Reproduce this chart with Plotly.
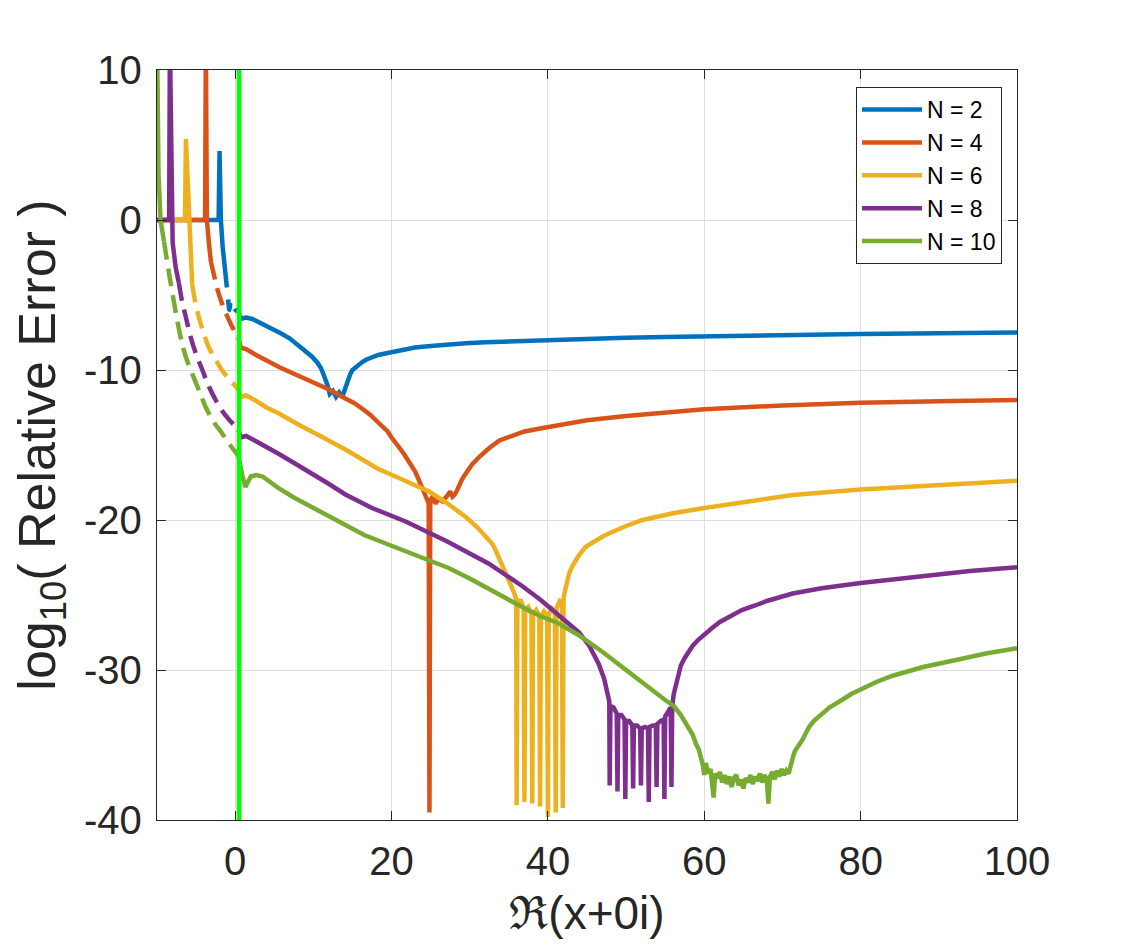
import plotly.graph_objects as go

# ---- data ----
orders = ["N = 2", "N = 4", "N = 6", "N = 8", "N = 10"]
colors = ["#0072BD", "#D95319", "#EDB120", "#7E2F8E", "#77AC30"]

# x < 0 : flat part at 0 and the pole spike (solid)
n2_spike_x = [-10, -2.12, -2.0, -1.83, -1.6, -1.35, -1.06]
n2_spike_y = [0, 0, 4.6, 0, -1.8, -3.2, -4.5]
n4_spike_x = [-10, -3.85, -3.75, -3.62, -3.35, -3.1]
n4_spike_y = [0, 0, 12, 0, -1.6, -2.8]
n6_spike_x = [-10, -6.42, -6.3, -5.92, -5.75, -5.5]
n6_spike_y = [0, 0, 5.4, 0, -2.2, -4.3]
n8_spike_x = [-10, -8.45, -8.35, -8.15, -8.0, -7.6, -7.2]
n8_spike_y = [0, 0, 12, 1, -1.5, -3.2, -4.2]
n10_spike_x = [-10, -9.8, -9.55, -9.1]
n10_spike_y = [12, 3, 0, -1.45]

# x < 0 : descending branch (dashed)
n2_dash_x = [-0.9, -0.75, -0.55, -0.3, -0.1, 0.2]
n2_dash_y = [-5.3, -6.0, -5.5, -5.5, -5.9, -6.1]
n4_dash_x = [-3.1, -2.7, -2.34, -1.8, -1.19, -0.5, 0.3]
n4_dash_y = [-2.8, -3.7, -4.5, -5.4, -6.2, -7.0, -7.8]
n6_dash_x = [-5.5, -5.1, -4.64, -4.0, -3.36, -2.5, -1.7, -0.8, 0.09, 0.4]
n6_dash_y = [-4.3, -5.5, -6.5, -7.6, -8.5, -9.3, -10.0, -10.6, -11.1, -11.3]
n8_dash_x = [-7.2, -6.8, -6.3, -5.7, -5.03, -4.2, -3.36, -2.5, -1.7, -0.8, 0.09, 0.4]
n8_dash_y = [-4.2, -5.4, -6.5, -7.8, -8.9, -10.0, -11.1, -12.0, -12.7, -13.3, -13.8, -14.0]
n10_dash_x = [-9.1, -8.48, -7.58, -6.82, -6.2, -5.54, -4.6, -3.75, -2.7, -1.7, -0.8, 0.09, 0.4]
n10_dash_y = [-1.45, -3.5, -6.2, -8.2, -9.3, -10.2, -11.4, -12.5, -13.5, -14.2, -14.9, -15.5, -15.7]

# x > 0 (solid)
n2_x = [0.4, 0.7, 1.0, 1.4, 2.2, 3, 4, 5, 6, 7, 8, 9, 9.8, 10.5, 11.0, 11.3, 11.6, 11.8, 12.1, 12.5, 12.9, 13.3,
        13.7, 14.0, 14.2, 14.4, 14.7, 15.0, 15.4, 15.8, 16.3, 16.8, 17.5, 18.3, 19.2, 20, 21.5, 23, 25, 27, 29.5,
        32, 36, 40, 45, 50, 55, 60, 70, 80, 90, 100]
n2_y = [-6.1, -6.6, -6.55, -6.5, -6.6, -6.8, -7.05, -7.3, -7.6, -7.9, -8.3, -8.7, -9.1, -9.5, -9.9, -10.3, -10.7, -11.0, -11.6, -11.4, -11.8, -11.5,
        -11.8, -11.3, -10.9, -10.6, -10.3, -10.0, -9.8, -9.6, -9.45, -9.3, -9.15, -9.0, -8.9, -8.8, -8.65, -8.5, -8.4, -8.3, -8.22,
        -8.15, -8.07, -8.0, -7.92, -7.85, -7.8, -7.75, -7.68, -7.6, -7.55, -7.5]

n4_x = [0.4, 0.7, 1.0, 1.4, 2.5, 4, 5.6, 7.5, 9.8, 12, 14.1, 15.2, 16.3, 17.3, 18.3, 19.0, 19.5, 20.0, 20.5,
        21.1, 21.6, 22.1, 22.6, 23.0, 23.3, 23.6, 23.8, 24.1, 24.3, 24.5, 24.75, 24.85, 24.95, 25.3, 25.6,
        26.1, 26.5, 27.1, 27.5, 27.8, 28.1, 28.4, 28.8, 29.0, 29.5, 30.0, 30.3, 31.2, 32.5, 33.8, 35.4, 37,
        39, 41.4, 45, 50, 55, 60, 70, 80, 90, 100]
n4_y = [-7.8, -8.5, -8.55, -8.6, -8.95, -9.4, -9.8, -10.25, -10.8, -11.3, -11.9, -12.2, -12.6, -13.0, -13.5, -13.8, -14.1, -14.5, -14.9,
        -15.25, -15.6, -16.0, -16.4, -16.75, -17.1, -17.45, -17.8, -18.1, -18.4, -18.6, -18.9, -39.5, -18.7, -18.4, -18.9,
        -18.6, -18.75, -18.4, -18.1, -18.45, -18.3, -18.0, -17.5, -17.3, -16.9, -16.5, -16.3, -15.8, -15.2, -14.7, -14.4, -14.1,
        -13.9, -13.67, -13.35, -13.07, -12.82, -12.62, -12.36, -12.18, -12.08, -12.0]

n6_x = [0.4, 0.7, 1.0, 1.4, 2.5, 4, 5.6, 6.9, 8.3, 9.8, 12, 14.1, 16.2, 18.3, 20.5, 22.6, 24.8,
        26.9, 28.3, 29.5, 31, 32.4, 32.9, 33.3, 33.7, 34.1, 34.45, 34.8, 35.1, 35.4, 35.7, 35.95,
        36.0, 36.1, 36.5, 36.9, 37.0, 37.1, 37.5, 37.9, 38.0, 38.1, 38.5, 38.9, 39.0, 39.1, 39.5,
        39.9, 40.0, 40.1, 40.5, 40.9, 41.0, 41.1, 41.5, 41.8, 41.9, 42.0,
        42.15, 42.3, 42.5, 42.7, 43.1, 43.5, 43.9, 44.8, 45.5, 46.2, 47, 47.8, 49, 50, 52.1, 56, 60, 65,
        71.3, 80, 90, 100]
n6_y = [-11.3, -11.8, -11.75, -11.7, -12.0, -12.5, -12.9, -13.3, -13.7, -14.1, -14.7, -15.3, -15.95, -16.6, -17.1, -17.6, -18.1,
        -18.8, -19.3, -19.8, -20.5, -21.3, -21.6, -22.0, -22.45, -22.9, -23.3, -23.7, -24.1, -24.5, -24.9, -25.3,
        -39.0, -25.6, -25.3, -25.9, -38.8, -26.0, -25.8, -26.3, -38.9, -26.3, -26.0, -26.4, -39.1, -26.4, -26.1,
        -26.4, -39.8, -26.3, -25.9, -26.1, -39.5, -25.9, -25.4, -25.5, -39.2, -25.2,
        -24.8, -24.4, -24.0, -23.6, -23.1, -22.7, -22.4, -21.8, -21.55, -21.3, -21.1, -20.9, -20.6, -20.4, -20.0, -19.55, -19.2, -18.8,
        -18.33, -17.96, -17.65, -17.38]

n8_x = [0.4, 0.7, 1.0, 1.4, 2.5, 4, 5.6, 7.7, 9.9, 12, 14.1, 17.5, 21.8, 27, 32.4, 36.7, 39, 41.0,
        42.5, 44.0, 45.3, 46.5, 47.2, 47.7, 47.85,
        47.9, 48.0, 48.4, 48.8, 48.9, 49.0, 49.4, 49.8, 49.9, 50.0, 50.4, 50.8, 50.9, 51.0, 51.4,
        51.8, 51.9, 52.0, 52.4, 52.8, 52.9, 53.0, 53.4, 53.8, 53.9, 54.0, 54.4, 54.8, 54.9, 55.0,
        55.35, 55.7, 55.8, 55.9,
        56.1, 56.4, 56.7, 57, 57.5, 58, 58.5, 59.2, 60, 61, 62, 63.3, 64.8, 66.5, 68, 71.3, 75, 80, 88.3, 94, 100]
n8_y = [-14.0, -14.5, -14.45, -14.4, -14.7, -15.1, -15.6, -16.25, -16.9, -17.6, -18.3, -19.2, -20.1, -21.4, -22.9, -24.4, -25.3, -26.2,
        -26.8, -27.5, -28.4, -29.6, -30.6, -31.6, -32.1,
        -37.7, -32.4, -32.5, -32.9, -38.1, -33.0, -33.0, -33.3, -38.6, -33.4, -33.4, -33.7, -37.9, -33.7, -33.7,
        -33.9, -37.7, -33.9, -33.8, -33.9, -38.8, -33.8, -33.7, -33.7, -37.8, -33.6, -33.4, -33.3, -38.6, -33.1,
        -32.8, -32.5, -37.8, -32.4,
        -31.6, -30.9, -30.2, -29.7, -29.2, -28.8, -28.4, -28.0, -27.6, -27.2, -26.8, -26.4, -26.0, -25.7, -25.4, -24.9, -24.55, -24.2, -23.7, -23.4, -23.15]

n10_x = [0.4, 0.6, 0.9, 1.3, 1.6, 2.0, 2.7, 3.5, 4.3, 5.6, 7.5, 10, 12.8, 16.5, 20.9, 24, 27.3, 30,
         32.4, 34.5, 36.7, 39, 41.4, 44.0, 47.0, 50.0, 52.1, 54.0, 55, 56.1, 57, 57.5, 58, 58.5, 59, 59.3, 59.8, 60.0,
         60.2, 60.5, 60.8, 61.0, 61.2, 61.4, 61.7, 62.0, 62.3, 62.6, 62.9, 63.2, 63.5, 63.8, 64.1,
         64.4, 64.7, 65.0, 65.3, 65.6, 65.9, 66.2, 66.5, 66.8, 67.1, 67.4, 67.7, 68.0, 68.2, 68.4,
         68.7, 69.0, 69.3, 69.6, 69.9, 70.2, 70.5, 70.8,
         71.0, 71.2, 71.4, 71.6, 71.8, 72.0, 72.3, 72.5, 72.9, 73.4, 74, 75, 76, 77.6, 78.8, 80, 82, 84, 88,
         92.5, 96, 100]
n10_y = [-15.7, -16.3, -17.0, -17.8, -17.5, -17.1, -17.0, -17.1, -17.4, -17.9, -18.5, -19.2, -20.0, -21.0, -21.9, -22.5, -23.2, -23.9,
         -24.6, -25.2, -25.8, -26.4, -26.9, -27.7, -28.8, -30.0, -30.8, -31.6, -32.0, -32.4, -33.0, -33.4, -33.8, -34.3, -35.0, -35.3, -36.3, -37.0,
         -36.2, -36.9, -36.6, -37.3, -38.5, -36.9, -37.2, -36.8, -37.5, -37.0, -37.6, -37.1, -37.8, -37.2, -37.0,
         -37.7, -37.3, -37.9, -37.2, -37.5, -37.0, -37.6, -37.1, -37.4, -36.9, -37.5, -37.0, -37.3, -38.9, -37.1,
         -36.8, -37.3, -36.7, -37.1, -36.6, -37.0, -36.7, -36.9,
         -36.4, -36.0, -35.7, -35.4, -35.2, -35.0, -34.85, -34.7, -34.3, -33.8, -33.4, -32.9, -32.5, -32.0, -31.6, -31.3, -30.8, -30.4, -29.8,
         -29.3, -28.9, -28.55]

vline_x = [0.5, 0.5]
vline_y = [-40, 10]

x_ticks = [0, 20, 40, 60, 80, 100]
y_ticks = [-40, -30, -20, -10, 0, 10]
y_tick_labels = ["-40", "-30", "-20", "-10", "0", "10"]

spikes = [(n2_spike_x, n2_spike_y), (n4_spike_x, n4_spike_y), (n6_spike_x, n6_spike_y),
          (n8_spike_x, n8_spike_y), (n10_spike_x, n10_spike_y)]
dashes = [(n2_dash_x, n2_dash_y), (n4_dash_x, n4_dash_y), (n6_dash_x, n6_dash_y),
          (n8_dash_x, n8_dash_y), (n10_dash_x, n10_dash_y)]
rights = [(n2_x, n2_y), (n4_x, n4_y), (n6_x, n6_y), (n8_x, n8_y), (n10_x, n10_y)]

FONT = "Liberation Sans, Arial, sans-serif"
LW = 4.5

fig = go.Figure()

for i in range(5):
    fig.add_trace(go.Scatter(
        x=spikes[i][0], y=spikes[i][1], mode="lines",
        line=dict(color=colors[i], width=LW),
        legendgroup=orders[i], showlegend=False, hoverinfo="skip"))
    fig.add_trace(go.Scatter(
        x=dashes[i][0], y=dashes[i][1], mode="lines",
        line=dict(color=colors[i], width=LW, dash="18px,9px", shape="spline", smoothing=0.8),
        legendgroup=orders[i], showlegend=False, hoverinfo="skip"))
    fig.add_trace(go.Scatter(
        x=rights[i][0], y=rights[i][1], mode="lines", name=orders[i],
        line=dict(color=colors[i], width=LW),
        legendgroup=orders[i]))

fig.add_trace(go.Scatter(
    x=vline_x, y=vline_y, mode="lines",
    line=dict(color="#00FF00", width=4.5), showlegend=False))

axis_common = dict(
    showline=True, linecolor="#262626", linewidth=1.3, mirror="ticks",
    ticks="inside", ticklen=9, tickcolor="#262626", tickwidth=1.3,
    showgrid=True, gridcolor="#dedede", gridwidth=1, zeroline=False,
    tickfont=dict(family=FONT, size=40, color="#262626"),
)

# page body has an 8px margin, so the figure is 8px smaller than the window
fig.update_layout(
    width=1117, height=937,
    margin=dict(l=149, r=108, t=62, b=125),
    paper_bgcolor="white", plot_bgcolor="white",
    font=dict(family=FONT, color="#262626"),
    xaxis=dict(range=[-10, 100], tickvals=x_ticks, ticklabelstandoff=6,
               title=dict(text="ℜ(x+0i)", font=dict(family=FONT, size=46), standoff=14),
               **axis_common),
    yaxis=dict(range=[-40, 10], tickvals=y_ticks, ticktext=y_tick_labels, ticklabelstandoff=6,
               title=dict(text="log<sub>10</sub>( Relative Error )", font=dict(family=FONT, size=52), standoff=14),
               **axis_common),
    legend=dict(x=0.9826, y=0.9773, xanchor="right", yanchor="top",
                bgcolor="white", bordercolor="#262626", borderwidth=1,
                font=dict(family=FONT, size=23, color="black"), itemwidth=60,
                tracegroupgap=0),
    showlegend=True,
)

fig.write_html("out.html")
